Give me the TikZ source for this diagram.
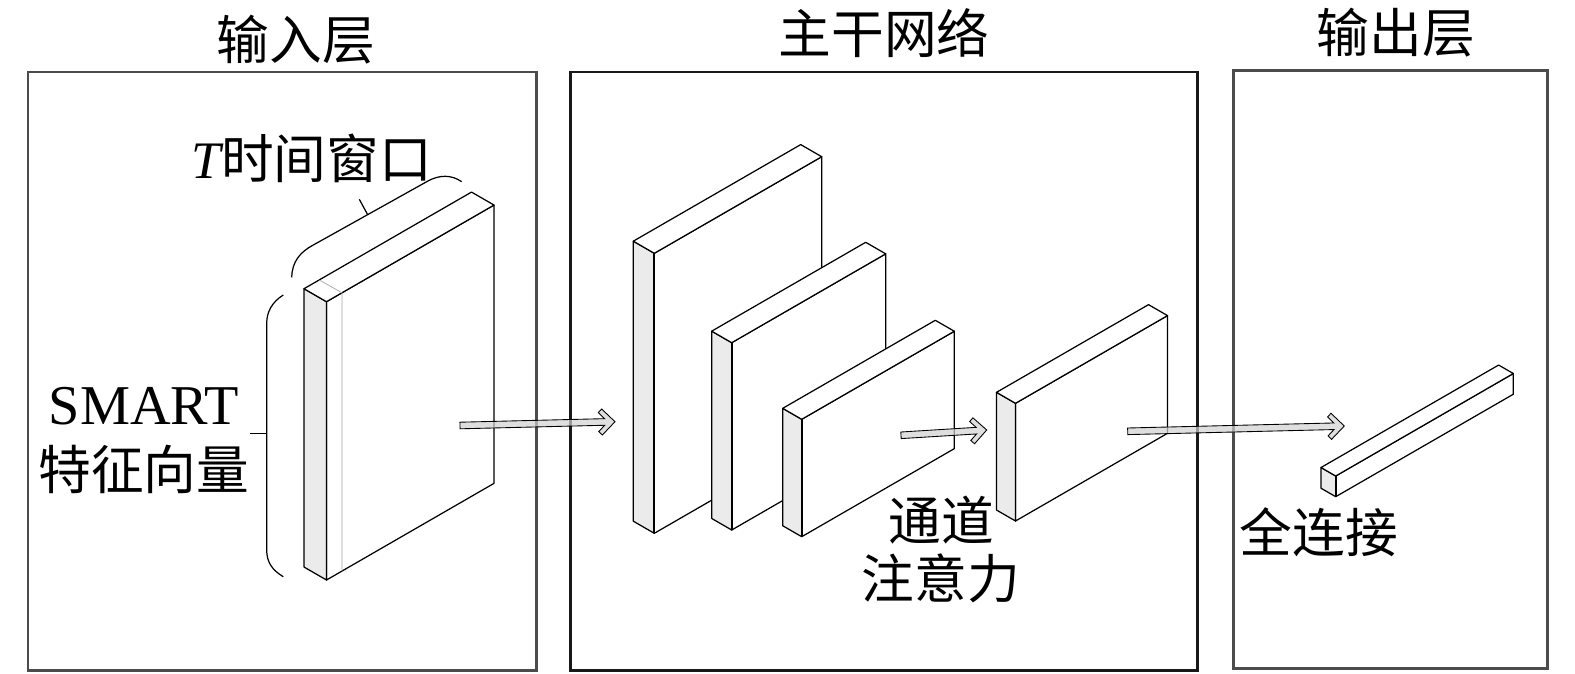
\documentclass[tikz,border=0pt]{standalone}
\usepackage{fontspec}
\setmainfont{Liberation Serif}
\newfontfamily\cjk{Noto Sans CJK SC}
\usetikzlibrary{calc}
\newdimen\unitpx \unitpx=0.02cm
\newcommand\slab[5]{%
  \filldraw[fill=white] (#1,#2) -- ++(0,-#5) -- ++(#4,{-0.577*#4}) -- ++(0,#5) -- cycle;
  \filldraw[fill=black!8] (#1,#2) -- ++(0,-#5) -- ++(-#3,{-0.577*#3}) -- ++(0,#5) -- cycle;
  \filldraw[fill=white] (#1,#2-#5) -- ++(-#3,{-0.577*#3}) -- ++(#4,{-0.577*#4}) -- ++(#3,{0.577*#3}) -- cycle;
  \draw[line width=1.1pt] (#1,#2) -- ++(0,-#5);
}
\begin{document}
\begin{tikzpicture}[x=0.02cm,y=-0.02cm,
  frame/.style={draw=black!70,line width=1.7pt},
  lbl/.style={font=\cjk\fontsize{30}{36}\selectfont,inner sep=0pt},
  bkt/.style={line width=.7pt},
  fatarrow/.style={draw,fill=black!18,fill opacity=.7,line width=.5pt,line join=miter,
    to path={let \p1=($(\tikztotarget)-(\tikztostart)$), \n1={atan2(\y1,\x1)}, \n2={veclen(\x1,\y1)} in
      ($(\tikztostart)+(\n1+90:3.3*\unitpx)$)
      -- ($(\tikztostart)+(\n1:{\n2-10.4*\unitpx})+(\n1+90:3.3*\unitpx)$)
      -- ($(\tikztostart)+(\n1:{\n2-16.5*\unitpx})+(\n1+90:9.5*\unitpx)$)
      -- ($(\tikztostart)+(\n1:{\n2-13*\unitpx})+(\n1+90:13*\unitpx)$)
      -- (\tikztotarget)
      -- ($(\tikztostart)+(\n1:{\n2-13*\unitpx})+(\n1-90:13*\unitpx)$)
      -- ($(\tikztostart)+(\n1:{\n2-16.5*\unitpx})+(\n1-90:9.5*\unitpx)$)
      -- ($(\tikztostart)+(\n1:{\n2-10.4*\unitpx})+(\n1-90:3.3*\unitpx)$)
      -- ($(\tikztostart)+(\n1-90:3.3*\unitpx)$) -- cycle}}]
\useasboundingbox (0,0) rectangle (1575,673);
\draw[frame] (28,72) rectangle (536.5,670);
\draw[frame,draw=black!90] (570,72) rectangle (1197,670);
\draw[frame] (1233.5,70.3) rectangle (1547,668);
\node[lbl] (inp) at (296,40) {输入层};
\node[lbl] (bb) at (884,33) {主干网络};
\node[lbl] (outp) at (1396,33) {输出层};
\begin{scope}[line width=.7pt,line join=round]
\slab{326.5}{580}{22.5}{167.5}{278.3}
\draw[black!35,line width=.4pt] (319.5,280.1) -- (342,292.8) -- (342,571);
\slab{654.3}{533.3}{21}{167.4}{280}
\slab{731.7}{530}{20}{154}{187.3}
\slab{801.7}{536.7}{19}{152.6}{117.4}
\slab{1015.5}{521}{19}{152}{117.7}
\slab{1335.7}{496.7}{14.7}{177.6}{20.7}
\end{scope}
\draw[bkt] (291.7,277.3) .. controls (292,262) and (300,252) .. (313.3,245) -- (426.7,181.7) .. controls (440,174) and (452,175) .. (461.7,181.7);
\draw[bkt] (359.3,199.3) -- (367.3,214);
\draw[bkt] (283.3,295) .. controls (272,302) and (266.7,312) .. (266.7,323.3) -- (266.7,550) .. controls (266.7,562) and (272,570) .. (283.3,576.7);
\draw[bkt] (266.7,433.3) -- (250,433.3);
\node[lbl] (win) at (312,158.7) {{\rmfamily\itshape T}时间窗口};
\node[lbl,align=center,font=\cjk\fontsize{30}{37}\selectfont] (feat) at (144,440) {{\rmfamily\fontsize{32}{37}\selectfont SMART}\\特征向量};
\node[lbl,align=center,font=\cjk\fontsize{30}{33}\selectfont] (att) at (941,549) {通道\\注意力};
\node[lbl] (fc) at (1319,532) {全连接};
\coordinate (in-out) at (460,425.5);
\coordinate (bb-in) at (615,421.7);
\coordinate (att-out) at (901,435.3);
\coordinate (att-in) at (986.7,430);
\coordinate (bb-out) at (1127.7,431.3);
\coordinate (fc-in) at (1344.3,426);
\draw[fatarrow] (in-out) to (bb-in);
\draw[fatarrow] (att-out) to (att-in);
\draw[fatarrow] (bb-out) to (fc-in);
\end{tikzpicture}
\end{document}
